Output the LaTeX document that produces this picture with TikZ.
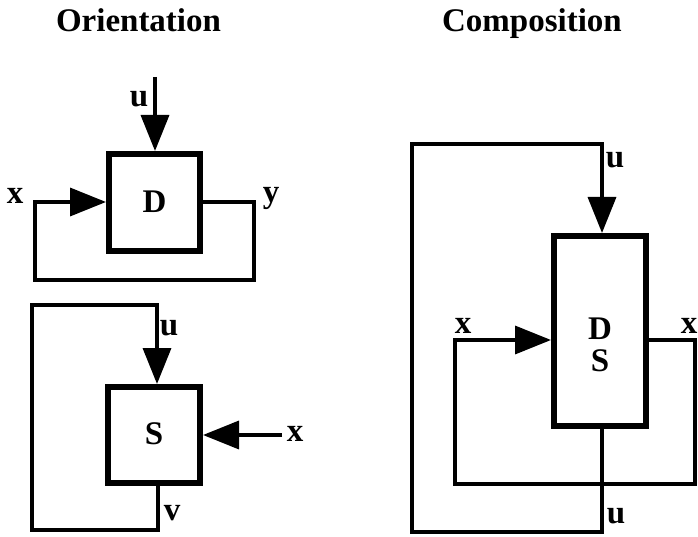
\documentclass[tikz,border=0pt]{standalone}
\usepackage{fontspec}
\setmainfont{Liberation Serif}
\usetikzlibrary{arrows.meta,calc}
\tikzset{
  blk/.style={draw, line width=6pt, minimum width=#1, inner sep=0pt},
  wire/.style={line width=3.5pt, line join=miter},
  tip/.style={-{Triangle[length=36pt,width=28pt]}},
  lbl/.style={font=\fontsize{33}{36}\selectfont\bfseries, inner sep=0pt},
  ttl/.style={font=\fontsize{33}{38}\selectfont\bfseries, inner sep=0pt, anchor=base}
}
\begin{document}
\begin{tikzpicture}[x=1pt,y=-1pt]
\useasboundingbox (0,0) rectangle (698,537);
% titles
\node[ttl] (t1) at (138.5,32) {Orientation};
\node[ttl] (t2) at (532,32) {Composition};
% ---- Orientation: D
\node[blk=91pt, minimum height=97pt] (D) at (154.5,202.5) {};
\node[lbl] (Dl) at (154.5,202) {D};
\coordinate (uTop) at (155,77);
\draw[wire,tip] (uTop) -- (uTop |- D.north);
\node[lbl] (u1) at (139,99) {u};
\coordinate (yR) at (254,202);
\coordinate (yRB) at (254,280);
\coordinate (xLB) at (35,280);
\coordinate (xL) at (35,202);
\draw[wire,tip] (D.east |- yR) -- (yR) -- (yRB) -- (xLB) -- (xL) -- (D.west |- xL);
\node[lbl] (x1) at (15,196) {x};
\node[lbl] (y1) at (271,198) {y};
% ---- Orientation: S
\node[blk=92pt, minimum height=96pt] (S) at (154,435) {};
\node[lbl] (Sl) at (154,434) {S};
\coordinate (vB) at (158,530);
\coordinate (vL) at (32,530);
\coordinate (uL) at (32,305);
\coordinate (uT) at (157,305);
\draw[wire,tip] (S.south -| vB) -- (vB) -- (vL) -- (uL) -- (uT) -- (S.north -| uT);
\node[lbl] (u2) at (169,328) {u};
\node[lbl] (v2) at (172,513) {v};
\coordinate (xR) at (282,435);
\draw[wire,tip] (xR) -- (S.east |- xR);
\node[lbl] (x2) at (295,434) {x};
% ---- Composition
\node[blk=92pt, minimum height=190pt] (DS) at (600,331) {};
\node[lbl] (Dc) at (600,329) {D};
\node[lbl] (Sc) at (600,361) {S};
\coordinate (oB) at (602,532);
\coordinate (oBL) at (412,532);
\coordinate (oTL) at (412,144);
\coordinate (oT) at (602,144);
\draw[wire,tip] (DS.south -| oB) -- (oB) -- (oBL) -- (oTL) -- (oT) -- (DS.north -| oT);
\coordinate (iR) at (695,340);
\coordinate (iRB) at (695,484);
\coordinate (iLB) at (455,484);
\coordinate (iL) at (455,340);
\draw[wire,tip] (DS.east |- iR) -- (iR) -- (iRB) -- (iLB) -- (iL) -- (DS.west |- iL);
\node[lbl] (u3) at (615,160) {u};
\node[lbl] (u4) at (616,516) {u};
\node[lbl] (x3) at (463,326) {x};
\node[lbl] (x4) at (689,326) {x};
\end{tikzpicture}
\end{document}
